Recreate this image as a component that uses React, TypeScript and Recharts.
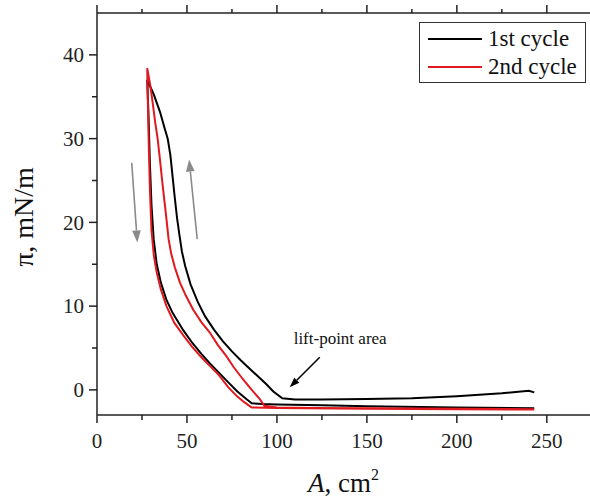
import React from "react";
import {
  LineChart,
  Line,
  XAxis,
  YAxis,
  Legend,
  ReferenceLine,
  ReferenceDot,
} from "recharts";

// 1st cycle: compression from 243 cm2, peak, then expansion back
const cycle1Area = [
  243, 240, 225, 200, 175, 150, 125, 110, 103, 98, 94, 90, 85, 80, 75, 70, 65,
  60, 56, 52, 49, 47.2, 45.8, 44.5, 43.2, 42, 40.8, 39.3, 37.5, 35, 31.5, 27.9,
  28.6, 29.4, 30.3, 31.5, 33.2, 35.5, 38.5, 42, 48, 53, 58, 63, 68, 73, 78, 83,
  86, 92, 100, 125, 150, 200, 243,
];
const cycle1Pressure = [
  -0.3, -0.1, -0.4, -0.75, -1.0, -1.1, -1.15, -1.15, -1.0, -0.2, 0.7, 1.5, 2.5,
  3.5, 4.6, 5.8, 7.2, 8.8, 10.5, 12.6, 14.8, 16.5, 18.5, 20.5, 23, 25.5, 28, 30,
  31.3, 33.2, 35.3, 37, 33, 27, 22, 18, 15, 12.8, 10.8, 9.2, 7.1, 5.6, 4.3, 3.1,
  2.0, 0.9, -0.2, -1.1, -1.6, -1.7, -1.75, -1.85, -1.95, -2.1, -2.2,
];

// 2nd cycle
const cycle2Area = [
  243, 200, 150, 120, 100, 93, 90.5, 86, 81, 76, 72, 67, 62.7, 58, 53.4, 49.5,
  46.1, 43.3, 41.2, 39.8, 38.7, 37.5, 36.2, 35, 33.7, 32.3, 31, 29.5, 27.9, 28.3,
  28.8, 29.4, 30.3, 31.6, 33.2, 35.5, 38.6, 43, 48, 53, 58, 63, 68, 73, 78, 82,
  86, 100, 150, 200, 243,
];
const cycle2Pressure = [
  -2.3, -2.25, -2.2, -2.15, -2.1, -1.9, -1.1, 0.0, 1.3, 2.7, 4.0, 5.4, 6.85, 8.1,
  9.6, 11.2, 12.8, 14.6, 16.3, 18, 20.2, 22.5, 25, 27.5, 30, 32, 34.2, 36.5, 38.4,
  34, 29, 24, 19, 16, 14, 12, 10, 8, 6.5, 5.1, 3.9, 2.8, 1.7, 0.3, -0.8, -1.5,
  -2.1, -2.15, -2.25, -2.3, -2.35,
];

const xTicks = [0, 25, 50, 75, 100, 125, 150, 175, 200, 225, 250];
const yTicks = [0, 5, 10, 15, 20, 25, 30, 35, 40];

// annotation arrows, [from, to] in data units
const liftArrow = [
  { x: 123.8, y: 3.9 },
  { x: 107.1, y: 0.3 },
];
const downArrow = [
  { x: 19.3, y: 27.1 },
  { x: 22.4, y: 17.6 },
];
const upArrow = [
  { x: 55.7, y: 18.0 },
  { x: 51.2, y: 27.5 },
];

const zip = (a: number[], p: number[]) => a.map((v, i) => ({ a: v, p: p[i] }));
const cycle1 = zip(cycle1Area, cycle1Pressure);
const cycle2 = zip(cycle2Area, cycle2Pressure);

const FONT = "Liberation Serif";
const AXIS = "#222";

function BottomTick({ x, y, payload }: any) {
  const v = payload.value;
  const major = v % 50 === 0;
  return (
    <g>
      <line x1={x} x2={x} y1={y} y2={y + (major ? 8 : 5)} stroke={AXIS} strokeWidth={1.5} />
      {major && (
        <text x={x} y={y + 33} textAnchor="middle" fontSize={21} fontFamily={FONT} fill="#222">
          {v}
        </text>
      )}
    </g>
  );
}

function TopTick({ x, y, payload }: any) {
  const major = payload.value % 50 === 0;
  return <line x1={x} x2={x} y1={y} y2={y - (major ? 8 : 4)} stroke={AXIS} strokeWidth={1.5} />;
}

function LeftTick({ x, y, payload }: any) {
  const v = payload.value;
  const major = v % 10 === 0;
  return (
    <g>
      <line x1={x} x2={x - (major ? 8 : 5)} y1={y} y2={y} stroke={AXIS} strokeWidth={1.5} />
      {major && (
        <text x={x - 13} y={y} dy="0.35em" textAnchor="end" fontSize={21} fontFamily={FONT} fill="#222">
          {v}
        </text>
      )}
    </g>
  );
}

function Arrow({ x1, y1, x2, y2, color, head }: any) {
  const dx = x2 - x1;
  const dy = y2 - y1;
  const len = Math.sqrt(dx * dx + dy * dy);
  const ux = dx / len;
  const uy = dy / len;
  const bx = x2 - ux * head;
  const by = y2 - uy * head;
  const w = head * 0.36;
  const pts = `${x2},${y2} ${bx - uy * w},${by + ux * w} ${bx + uy * w},${by - ux * w}`;
  return (
    <g>
      <line x1={x1} y1={y1} x2={bx} y2={by} stroke={color} strokeWidth={1.6} />
      <polygon points={pts} fill={color} />
    </g>
  );
}

function LegendBox() {
  const row = (color: string, label: string) => (
    <div style={{ display: "flex", alignItems: "center", height: 28 }}>
      <div style={{ width: 54, height: 2, background: color, marginLeft: 8, marginRight: 6 }} />
      <span style={{ fontSize: 23, fontFamily: FONT, color: "#111", lineHeight: "28px" }}>{label}</span>
    </div>
  );
  return (
    <div
      style={{
        border: "1.5px solid #333",
        width: 165,
        height: 57,
        boxSizing: "content-box",
        paddingTop: 2,
        background: "#fff",
      }}
    >
      {row("#000", "1st cycle")}
      {row("#e0191f", "2nd cycle")}
    </div>
  );
}

export default function App() {
  return (
    <div style={{ position: "absolute", left: 0, top: 0, background: "#fff" }}>
      <LineChart width={590} height={503} margin={{ top: 0, right: 0, bottom: 0, left: 0 }}>
        <XAxis
          xAxisId="top"
          orientation="top"
          type="number"
          dataKey="a"
          domain={[0, 274]}
          allowDataOverflow
          ticks={xTicks}
          interval={0}
          height={13}
          tickSize={0}
          tickMargin={0}
          tickLine={false}
          tick={(p: any) => <TopTick {...p} />}
          axisLine={{ stroke: AXIS, strokeWidth: 1.5 }}
        />
        <XAxis
          type="number"
          dataKey="a"
          domain={[0, 274]}
          allowDataOverflow
          ticks={xTicks}
          interval={0}
          height={88}
          tickSize={0}
          tickMargin={0}
          tickLine={false}
          tick={(p: any) => <BottomTick {...p} />}
          axisLine={{ stroke: AXIS, strokeWidth: 1.5 }}
          label={{
            content: ({ viewBox }: any) => (
              <text
                x={viewBox.x + viewBox.width / 2}
                y={492}
                textAnchor="middle"
                fontSize={27}
                fontFamily={FONT}
                fill="#111"
              >
                <tspan fontStyle="italic">A</tspan>
                <tspan>, cm</tspan>
                <tspan fontSize={16} dy={-12}>2</tspan>
              </text>
            ),
          }}
        />
        <YAxis
          type="number"
          dataKey="p"
          domain={[-3, 45]}
          allowDataOverflow
          ticks={yTicks}
          interval={0}
          width={97}
          tickSize={0}
          tickMargin={0}
          tickLine={false}
          tick={(p: any) => <LeftTick {...p} />}
          axisLine={{ stroke: AXIS, strokeWidth: 1.5 }}
          label={{
            content: () => (
              <text
                x={0}
                y={0}
                transform="translate(33, 217) rotate(-90)"
                textAnchor="middle"
                fontSize={28}
                fontFamily={FONT}
                fill="#111"
              >
                π, mN/m
              </text>
            ),
          }}
        />
        <Legend
          layout="vertical"
          align="center"
          verticalAlign="middle"
          wrapperStyle={{ left: 419, top: 22, width: 170 }}
          content={() => <LegendBox />}
        />
        <ReferenceLine
          segment={downArrow}
          shape={(p: any) => <Arrow {...p} color="#8a8a8a" head={12} />}
        />
        <ReferenceLine
          segment={upArrow}
          shape={(p: any) => <Arrow {...p} color="#8a8a8a" head={12} />}
        />
        <ReferenceLine
          segment={liftArrow}
          shape={(p: any) => <Arrow {...p} color="#000" head={10} />}
        />
        <ReferenceDot
          x={109.3}
          y={5.45}
          r={0}
          shape={(p: any) => (
            <text x={p.cx} y={p.cy} fontSize={17} fontFamily={FONT} fill="#111">
              lift-point area
            </text>
          )}
        />
        <Line
          data={cycle1}
          dataKey="p"
          type="linear"
          stroke="#000"
          strokeWidth={2}
          dot={false}
          isAnimationActive={false}
          name="1st cycle"
        />
        <Line
          data={cycle2}
          dataKey="p"
          type="linear"
          stroke="#e0191f"
          strokeWidth={2}
          dot={false}
          isAnimationActive={false}
          name="2nd cycle"
        />
      </LineChart>
    </div>
  );
}
